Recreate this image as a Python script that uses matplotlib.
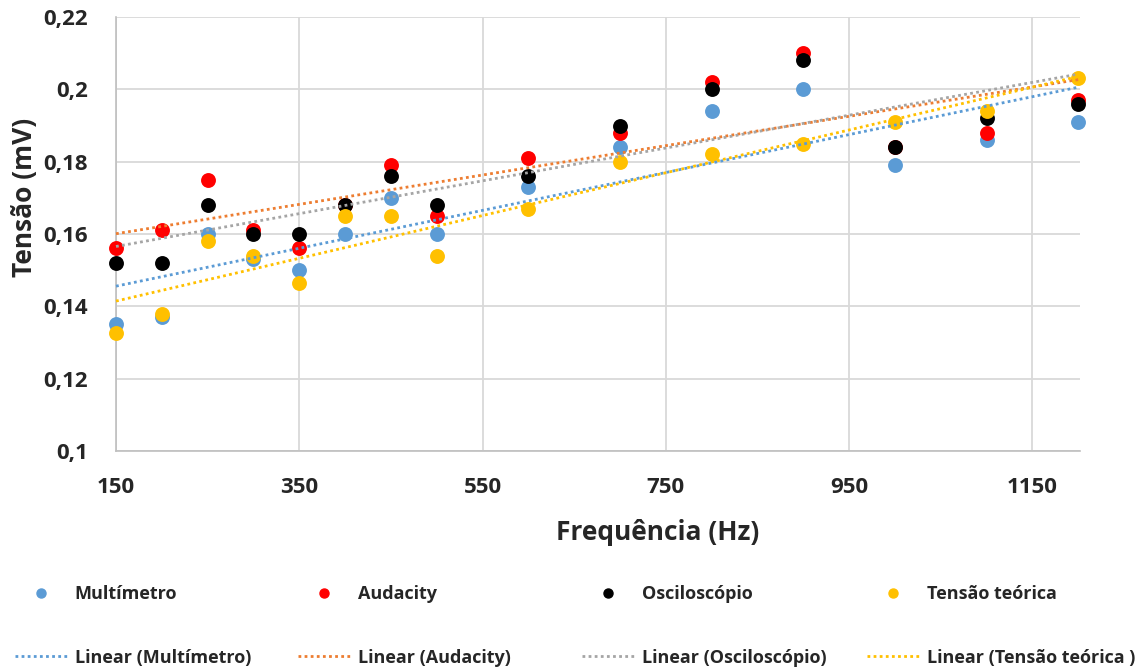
import numpy as np
import matplotlib
matplotlib.use("Agg")
import matplotlib.pyplot as plt
from matplotlib.ticker import FuncFormatter, FixedLocator
from matplotlib.lines import Line2D

freq = [150, 200, 250, 300, 350, 400, 450, 500, 600, 700, 800, 900, 1000, 1100, 1200]
multimetro = [0.135, 0.137, 0.160, 0.153, 0.150, 0.160, 0.170, 0.160, 0.173, 0.184, 0.194, 0.200, 0.179, 0.186, 0.191]
audacity = [0.156, 0.161, 0.175, 0.161, 0.156, 0.168, 0.179, 0.165, 0.181, 0.188, 0.202, 0.210, 0.184, 0.188, 0.197]
osciloscopio = [0.152, 0.152, 0.168, 0.160, 0.160, 0.168, 0.176, 0.168, 0.176, 0.190, 0.200, 0.208, 0.184, 0.192, 0.196]
teorica = [0.1325, 0.138, 0.158, 0.154, 0.1465, 0.165, 0.165, 0.154, 0.167, 0.180, 0.182, 0.185, 0.191, 0.194, 0.203]

series_names = ["Multímetro", "Audacity", "Osciloscópio", "Tensão teórica"]
trend_names = ["Linear (Multímetro)", "Linear (Audacity)", "Linear (Osciloscópio)", "Linear (Tensão teórica )"]
x_ticks = [150, 350, 550, 750, 950, 1150]
y_ticks = [0.10, 0.12, 0.14, 0.16, 0.18, 0.20, 0.22]

marker_colors = ["#5B9BD5", "#FF0000", "#000000", "#FFC000"]
trend_colors = ["#5B9BD5", "#ED7D31", "#A5A5A5", "#FFC000"]
text_color = "#262626"

plt.rcParams['font.family'] = ['Open Sans', 'DejaVu Sans']
fig = plt.figure(figsize=(11.44, 6.70), dpi=100)
ax = fig.add_axes([116/1144, 1-451/670, (1080-116)/1144, (451-17)/670])

x = np.array(freq, dtype=float)
data = [multimetro, audacity, osciloscopio, teorica]
dot = (0, (1, 1.2))
for vals, mc in zip(data, marker_colors):
    ax.scatter(x, vals, s=115, color=mc, zorder=3, linewidths=0, clip_on=False)
for vals, tc in zip(data, trend_colors):
    k, b = np.polyfit(x, vals, 1)
    xx = np.array([x.min(), x.max()])
    ax.plot(xx, k*xx + b, linestyle=dot, color=tc, linewidth=2, zorder=4, clip_on=False)

ax.set_xlim(150, 1202)
ax.set_ylim(0.1, 0.22)
ax.xaxis.set_major_locator(FixedLocator(x_ticks))
ax.yaxis.set_major_locator(FixedLocator(y_ticks))
ax.yaxis.set_major_formatter(FuncFormatter(lambda v, p: f"{v:g}".replace('.', ',')))
ax.grid(True, color="#D9D9D9", linewidth=1.3, zorder=0)
ax.set_axisbelow(True)
for s in ['top', 'right']:
    ax.spines[s].set_visible(False)
for s in ['left', 'bottom']:
    ax.spines[s].set_color("#BFBFBF")
    ax.spines[s].set_linewidth(1.2)
ax.tick_params(axis='x', length=0, labelsize=16, colors=text_color, pad=19)
ax.tick_params(axis='y', length=0, labelsize=16, colors=text_color, pad=20)
for lab in ax.get_xticklabels() + ax.get_yticklabels():
    lab.set_fontweight('bold')
ax.set_xlabel("Frequência (Hz)", fontsize=19, fontweight='bold', color=text_color)
ax.set_ylabel("Tensão (mV)", fontsize=19, fontweight='bold', color=text_color)
ax.xaxis.set_label_coords((658-116)/964, (451-533)/434, transform=ax.transAxes)
ax.xaxis.label.set_va('center')
ax.yaxis.set_label_coords((25-116)/964, (451-197)/434, transform=ax.transAxes)
ax.yaxis.label.set_va('center')

col_x = [15, 298, 582, 867]
for xi, name, tname, mc, tc in zip(col_x, series_names, trend_names, marker_colors, trend_colors):
    h1 = Line2D([], [], marker='o', linestyle='none', color=mc, markersize=6.5, label=name)
    h2 = Line2D([], [], linestyle=dot, color=tc, linewidth=2, label=tname)
    leg = fig.legend(handles=[h1, h2], loc='center left',
                     bbox_to_anchor=(xi/1144, 1-626/670),
                     frameon=False, prop={'weight': 'bold', 'size': 13},
                     borderpad=0, borderaxespad=0, labelspacing=2.5,
                     handlelength=2.9, handletextpad=0.4)
    for t in leg.get_texts():
        t.set_color(text_color)

fig.savefig("out.png", dpi=100)
